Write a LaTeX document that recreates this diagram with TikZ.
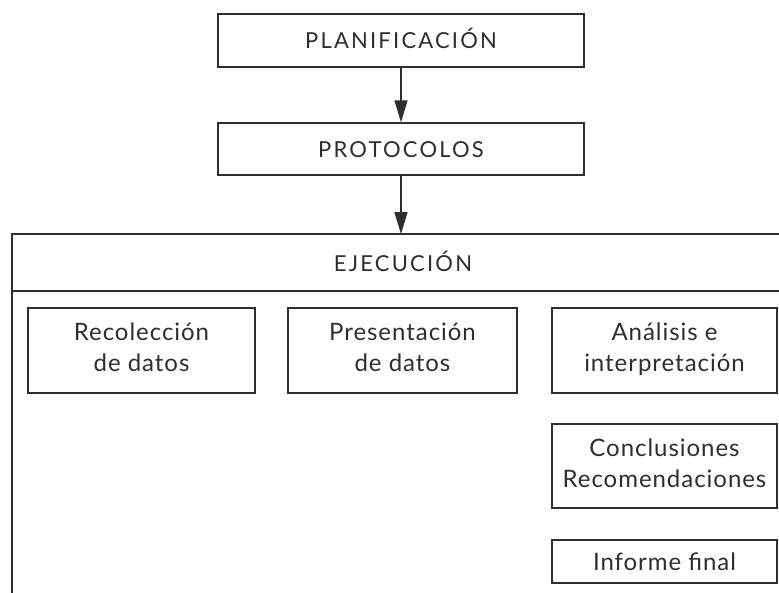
\documentclass[tikz,border=0pt]{standalone}
\usepackage{fontspec}
\setmainfont{Lato}
\newfontfamily\titlelato[LetterSpace=10]{Lato}
\newfontfamily\sublato[LetterSpace=4]{Lato}
\usetikzlibrary{arrows.meta}
\definecolor{ink}{HTML}{2E2E2E}
\begin{document}
\begin{tikzpicture}[x=1pt,y=-1pt,
  every node/.style={text=ink},
  box/.style={draw=ink,line width=1.5pt,rectangle,inner sep=0pt,align=center},
  titlefont/.style={font=\titlelato\fontsize{22}{26}\selectfont,text height=16pt,text depth=0pt},
  subfont/.style={font=\sublato\fontsize{24}{31}\selectfont,text height=48pt,text depth=6pt},
  onefont/.style={font=\sublato\fontsize{24}{31}\selectfont,text height=17pt,text depth=0pt},
  conn/.style={draw=ink,line width=1.5pt,-{Triangle[length=22pt,width=13pt]}}]
\useasboundingbox (0,0) rectangle (779,592);
\clip (0,0) rectangle (779,592);
\fill[white] (0,0) rectangle (779,592);
% top boxes
\node[box,titlefont,minimum width=366pt,minimum height=53pt] (plan) at (401,40.5) {PLANIFICACIÓN};
\node[box,titlefont,minimum width=366pt,minimum height=52pt] (prot) at (401,149) {PROTOCOLOS};
% outer execution frame (extends beyond the visible area)
\node[box,outer sep=0pt,minimum width=820pt,minimum height=400pt,anchor=north west] (outer) at (12,234) {};
\coordinate (divl) at (12,291);
\coordinate (divr) at (800,291);
\draw[draw=ink,line width=1.5pt] (divl) -- (divr);
\node[titlefont,inner sep=0pt] (ejec) at (403,263.3) {EJECUCIÓN};
% inner boxes
\node[box,subfont,minimum width=227pt,minimum height=85pt] (rec) at (141.5,350.5) {Recolección\\de datos};
\node[box,subfont,minimum width=229pt,minimum height=85pt] (pres) at (402.5,350.5) {Presentación\\de datos};
\node[box,subfont,minimum width=225pt,minimum height=85pt] (anal) at (664.5,350.5) {Análisis e\\interpretación};
\node[box,subfont,minimum width=225pt,minimum height=84pt] (concl) at (664.5,466) {Conclusiones\\Recomendaciones};
\node[box,onefont,minimum width=225pt,minimum height=43pt] (inf) at (664.5,561.5) {Informe final};
% connectors
\draw[conn] (plan) -- (prot);
\draw[conn] (prot.south) -- (prot.south |- outer.north);
\end{tikzpicture}
\end{document}
